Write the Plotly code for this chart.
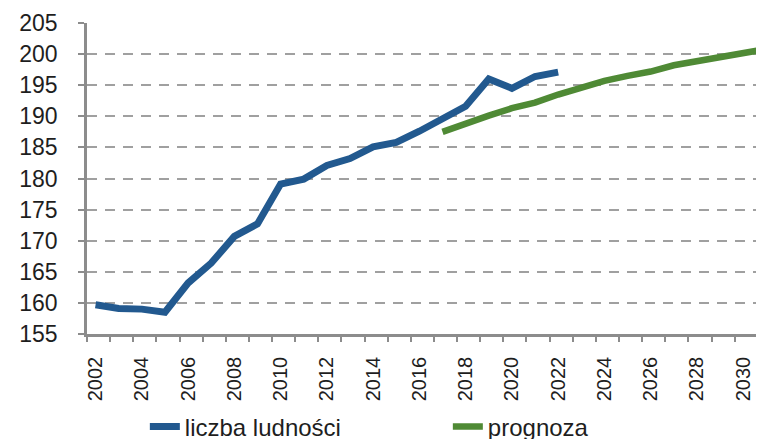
import plotly.graph_objects as go

# liczba ludności (actual) and prognoza (forecast)
years_actual = list(range(2002, 2023))
ludnosc = [159.7, 159.1, 159.0, 158.5, 163.2, 166.4, 170.7, 172.7, 179.1, 179.9,
           182.1, 183.2, 185.1, 185.8, 187.6, 189.7, 191.6, 196.0, 194.5, 196.4, 197.1]

years_forecast = list(range(2017, 2032))
prognoza = [187.5, 188.9, 190.1, 191.3, 192.2, 193.5, 194.6, 195.7, 196.5, 197.2,
            198.2, 198.9, 199.6, 200.3, 200.8]

x_ticks = list(range(2002, 2031, 2))
y_ticks = list(range(155, 206, 5))

AXIS_GREY = "#8c8c8c"
FONT = "Liberation Sans, Arial, sans-serif"
X_START = 2001.63

fig = go.Figure()
fig.add_trace(go.Scatter(
    x=years_actual, y=ludnosc, name="liczba ludności", mode="lines",
    line=dict(color="#22598f", width=7),
))
fig.add_trace(go.Scatter(
    x=years_forecast, y=prognoza, name="prognoza", mode="lines",
    line=dict(color="#4f8a35", width=6.5),
))

# page body has an 8px margin, so the plot box is offset by that much;
# autoexpand off so the legend doesn't squeeze the plot
fig.update_layout(
    width=764, height=439,
    margin=dict(l=79, r=8, t=15, b=113, autoexpand=False),
    paper_bgcolor="white", plot_bgcolor="white",
    font=dict(family=FONT, size=23, color="#1e1e1e"),
    showlegend=True,
    legend=dict(orientation="h", x=0.533, xanchor="center", y=-0.299, yanchor="middle",
                font=dict(size=24), itemwidth=30, entrywidth=258, tracegroupgap=0),
)
fig.update_xaxes(
    range=[X_START, 2030.9], automargin=False,
    tickvals=x_ticks, ticktext=[str(y) for y in x_ticks],
    tickangle=-90, tickfont=dict(size=20),
    showgrid=False, zeroline=False,
    showline=True, linecolor=AXIS_GREY, linewidth=2.5,
    ticks="", ticklabelstandoff=12,
    minor=dict(dtick=1, tick0=X_START, ticks="outside", ticklen=5,
               tickcolor=AXIS_GREY, tickwidth=2, showgrid=False),
)
fig.update_yaxes(
    range=[155, 205], tickvals=y_ticks, automargin=False,
    showgrid=True, gridcolor="#a0a0a0", griddash="10px,8px", gridwidth=1.8,
    zeroline=False,
    showline=True, linecolor=AXIS_GREY, linewidth=2.5,
    ticks="outside", ticklen=6, tickcolor=AXIS_GREY, tickwidth=2,
    ticklabelstandoff=16, tickfont=dict(size=23),
)

fig.write_html("out.html")
